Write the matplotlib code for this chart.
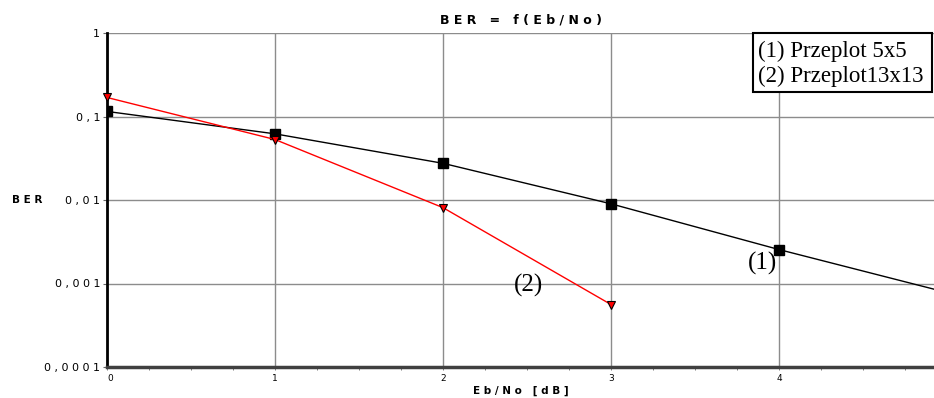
import matplotlib.pyplot as plt
from matplotlib.patches import Rectangle
from matplotlib.ticker import FixedLocator, NullFormatter

# data
ebno = [0, 1, 2, 3, 4, 5]
ber_5x5 = [0.115, 0.062, 0.0275, 0.009, 0.00255, 0.00078]
ebno_13 = [0, 1, 2, 3]
ber_13x13 = [0.169, 0.053, 0.0081, 0.00056]

y_ticks = [1, 0.1, 0.01, 0.001, 0.0001]
y_labels = ["1", "0 , 1", "0 , 0 1", "0 , 0 0 1", "0 , 0 0 0 1"]
x_ticks = [0, 1, 2, 3, 4]
x_labels = ["0", "1", "2", "3", "4"]

W, H = 934, 398
fig = plt.figure(figsize=(W / 100, H / 100), dpi=100)
ax = fig.add_axes([107/W, 31/H, 827/W, 334/H])

ax.plot(ebno, ber_5x5, color="black", linewidth=1, marker="s", markersize=7,
        markerfacecolor="black", markeredgecolor="black", clip_on=True, zorder=3)
ax.plot(ebno_13, ber_13x13, color="red", linewidth=1, marker="v", markersize=6,
        markerfacecolor="red", markeredgecolor="black", markeredgewidth=0.8,
        clip_on=False, zorder=3)

ax.set_yscale("log")
ax.set_ylim(0.0001, 1)
ax.set_xlim(0, 827/168)

ax.yaxis.set_major_locator(FixedLocator(y_ticks))
ax.set_yticklabels(y_labels)
ax.yaxis.set_minor_formatter(NullFormatter())
ax.yaxis.set_minor_locator(FixedLocator([]))
ax.xaxis.set_major_locator(FixedLocator(x_ticks))
ax.set_xticklabels(x_labels)
ax.xaxis.set_minor_locator(FixedLocator([i * 0.25 for i in range(20)]))

ax.grid(True, which="major", color="#8c8c8c", linewidth=1)
ax.set_axisbelow(True)

for s in ["top", "right"]:
    ax.spines[s].set_visible(False)
ax.spines["left"].set_linewidth(2)
ax.spines["left"].set_color("black")
ax.spines["bottom"].set_linewidth(2.5)
ax.spines["bottom"].set_color("#404040")

ax.tick_params(axis="y", which="major", length=3, width=0.8, color="#666666",
               labelsize=8, pad=2)
ax.tick_params(axis="x", which="both", length=2, width=0.6, color="#666666",
               labelsize=6.5, pad=3)
for lab in ax.get_xticklabels():
    if lab.get_text() == "0":
        lab.set_horizontalalignment("left")

ax.set_title("B E R   =   f ( E b / N o )", fontsize=9, fontweight="bold", pad=7)
ax.set_xlabel("E b / N o   [ d B ]", fontsize=7.5, fontweight="bold", labelpad=2)
fig.text(12/W, 1 - 200/H, "B E R", fontsize=7.5, fontweight="bold",
         ha="left", va="center")

serif = "Liberation Serif"
ax.annotate("(1)", xy=(3.99, 0.00176), fontsize=18, family=serif,
            ha="right", va="center")
ax.annotate("(2)", xy=(2.51, 0.00096), fontsize=18, family=serif,
            ha="center", va="center")

# legend box
fig.patches.append(Rectangle((753/W, 1 - 92/H), 179/W, 59/H, transform=fig.transFigure,
                             facecolor="white", edgecolor="black", linewidth=1.5,
                             zorder=5))
fig.text(758/W, 1 - 57/H, "(1) Przeplot 5x5", fontsize=16.5, family=serif,
         ha="left", va="baseline", zorder=6)
fig.text(758/W, 1 - 82/H, "(2) Przeplot13x13", fontsize=16.5, family=serif,
         ha="left", va="baseline", zorder=6)

fig.savefig("out.png", dpi=100)
